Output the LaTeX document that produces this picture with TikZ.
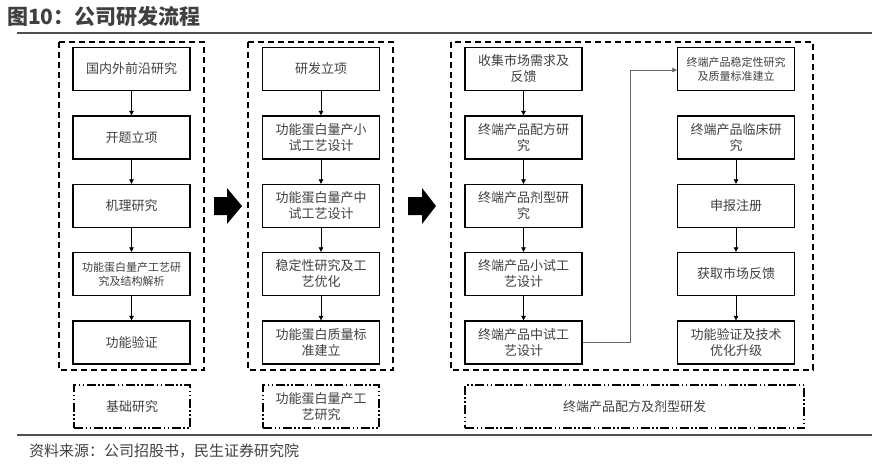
\documentclass[tikz,border=0pt]{standalone}
\usepackage{fontspec}
\setmainfont{Noto Sans CJK SC}
\usetikzlibrary{arrows.meta}
\definecolor{txt}{HTML}{404040}
\definecolor{rule}{HTML}{505050}
\begin{document}
\begin{tikzpicture}[x=1pt,y=-1pt,
  stepbox/.style={draw=black,line width=1.3pt,minimum width=117pt,minimum height=43pt,inner sep=1pt,align=center,text=txt,font=\fontsize{13}{16}\selectfont},
  smallbox/.style={stepbox,font=\fontsize{11}{14}\selectfont},
  panel/.style={draw=black,line width=1.2pt,dash pattern=on 6pt off 4pt},
  labelbox/.style={draw=black,line width=1.2pt,dash pattern=on 9pt off 2.5pt on 1.5pt off 2.5pt on 1.5pt off 2.5pt,minimum height=43pt,inner sep=1pt,align=center,text=txt,font=\fontsize{13}{16}\selectfont},
  flow/.style={-{Triangle[length=4.5pt,width=4.5pt]},line width=0.7pt,black},
  bigarrow/.style={fill=black,draw=none}
]
\useasboundingbox (0,0) rectangle (872,464);
% title
\node[anchor=west,inner sep=0pt,text=txt,font=\fontsize{21}{24}\selectfont\bfseries] (title) at (7,17) {图10：公司研发流程};
\draw[rule,line width=2pt] (17,33) -- (872,33);
\draw[rule,line width=2pt] (17,435) -- (872,435);
\node[anchor=west,inner sep=0pt,text=txt,font=\fontsize{15}{17}\selectfont] (src) at (29,451) {资料来源：公司招股书，民生证券研究院};

% panels
\draw[panel] (59,42) rectangle (204,370);
\draw[panel] (248,42) rectangle (393,370);
\draw[panel] (451,42) rectangle (813,370);

% panel 1
\node[stepbox] (a1) at (131.5,69) {国内外前沿研究};
\node[stepbox] (a2) at (131.5,137.5) {开题立项};
\node[stepbox] (a3) at (131.5,206) {机理研究};
\node[smallbox] (a4) at (131.5,274) {功能蛋白量产工艺研\\究及结构解析};
\node[stepbox] (a5) at (131.5,342.5) {功能验证};
\draw[flow] (a1) -- (a2);
\draw[flow] (a2) -- (a3);
\draw[flow] (a3) -- (a4);
\draw[flow] (a4) -- (a5);
\node[labelbox,minimum width=116pt] (la) at (132,406.5) {基础研究};

% panel 2
\node[stepbox] (b1) at (321,69) {研发立项};
\node[stepbox] (b2) at (321,137.5) {功能蛋白量产小\\试工艺设计};
\node[stepbox] (b3) at (321,206) {功能蛋白量产中\\试工艺设计};
\node[stepbox] (b4) at (321,274) {稳定性研究及工\\艺优化};
\node[stepbox] (b5) at (321,342.5) {功能蛋白质量标\\准建立};
\draw[flow] (b1) -- (b2);
\draw[flow] (b2) -- (b3);
\draw[flow] (b3) -- (b4);
\draw[flow] (b4) -- (b5);
\node[labelbox,minimum width=116pt] (lb) at (321,406.5) {功能蛋白量产工\\艺研究};

% panel 3 left
\node[stepbox] (c1) at (523.5,69) {收集市场需求及\\反馈};
\node[stepbox] (c2) at (523.5,137.5) {终端产品配方研\\究};
\node[stepbox] (c3) at (523.5,206) {终端产品剂型研\\究};
\node[stepbox] (c4) at (523.5,274) {终端产品小试工\\艺设计};
\node[stepbox] (c5) at (523.5,342.5) {终端产品中试工\\艺设计};
\draw[flow] (c1) -- (c2);
\draw[flow] (c2) -- (c3);
\draw[flow] (c3) -- (c4);
\draw[flow] (c4) -- (c5);

% panel 3 right
\node[smallbox] (d1) at (736,69) {终端产品稳定性研究\\及质量标准建立};
\node[stepbox] (d2) at (736,137.5) {终端产品临床研\\究};
\node[stepbox] (d3) at (736,206) {申报注册};
\node[stepbox] (d4) at (736,274) {获取市场反馈};
\node[stepbox] (d5) at (736,342.5) {功能验证及技术\\优化升级};
\draw[flow] (d2) -- (d3);
\draw[flow] (d3) -- (d4);
\draw[flow] (d4) -- (d5);
\coordinate (k1) at (630,342.5);
\coordinate (k2) at (630,70);
\draw[flow,draw=gray!80!black] (c5.east) -- (k1) -- (k2) -- (k2 -| d1.west);

\node[labelbox,minimum width=339pt] (lc) at (634.5,406.5) {终端产品配方及剂型研发};

% big arrows
\fill[bigarrow] (214,197) -- (227,197) -- (227,188) -- (242,206) -- (227,224) -- (227,215) -- (214,215) -- cycle;
\fill[bigarrow] (408,197) -- (422,197) -- (422,188) -- (436,206) -- (422,224) -- (422,215) -- (408,215) -- cycle;
\end{tikzpicture}
\end{document}
